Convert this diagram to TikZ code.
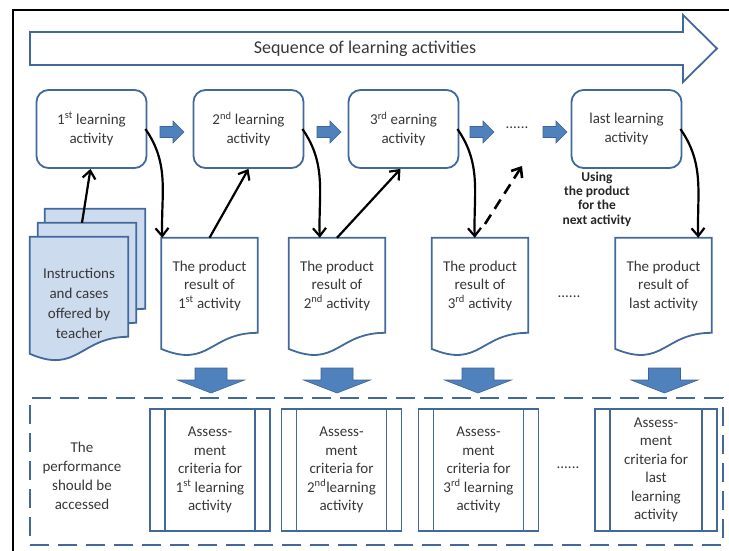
\documentclass[tikz,border=0pt]{standalone}
\usepackage{fontspec}
\setmainfont{Carlito}
\usetikzlibrary{shapes, arrows.meta, positioning, calc, backgrounds}

\definecolor{boxline}{RGB}{65,105,155}
\definecolor{blockfill}{RGB}{79,129,189}
\definecolor{blockline}{RGB}{60,100,150}
\definecolor{paper}{RGB}{205,219,238}
\definecolor{txt}{RGB}{55,55,55}

% page outline with a wavy bottom: #2 node, #3 height of the straight right side
\newcommand{\docoutline}[3][]{%
  \draw[docline,#1] (#2.north west) -- (#2.north east) -- ++(0,-#3)
    .. controls ($(#2.north east)+(-48,-#3)$) and ($(#2.north west)+(48,-1.38*#3)$)
    .. ($(#2.north west)+(0,-1.17*#3)$) -- cycle;}

\tikzset{
	block/.style={draw=blockline, fill=blockfill, line width=0.6pt},
	pics/rightblock/.style={code={\draw[block] (-12,-5.5) -- (1,-5.5) -- (1,-11) -- (12,0) -- (1,11) -- (1,5.5) -- (-12,5.5) -- cycle;}},
	pics/downblock/.style={code={\draw[block] (-16,12.5) -- (16,12.5) -- (16,0.5) -- (33.5,0.5) -- (0,-12.5) -- (-33.5,0.5) -- (-16,0.5) -- cycle;}}
}

\begin{document}
\begin{tikzpicture}[
			x=1pt, y=1pt,
			font=\fontsize{15}{18.5}\selectfont, text=txt,
			activity/.style={rectangle, rounded corners=12pt, draw=boxline, line width=1.8pt, minimum width=110pt, minimum height=78pt, align=center, font=\fontsize{15}{19}\selectfont},
			page/.style={rectangle, minimum width=96pt, minimum height=95pt, align=center, inner sep=0pt},
			docline/.style={draw=boxline, line width=1.8pt, fill=white},
			criteria/.style={rectangle, draw=boxline, line width=1.8pt, minimum width=120pt, minimum height=122pt, align=center,
				path picture={\draw[boxline, line width=1.8pt]
					([xshift=15pt]path picture bounding box.north west) -- ([xshift=15pt]path picture bounding box.south west)
					([xshift=-15pt]path picture bounding box.north east) -- ([xshift=-15pt]path picture bounding box.south east);}},
			flow/.style={-{Straight Barb[length=8pt,width=13pt]}, line width=2.2pt, black},
			note/.style={align=center, font=\fontsize{13.5}{14.3}\selectfont\bfseries, text=black!85}
			]
			\useasboundingbox (0,0) rectangle (729,-551);
			
			% frame
			\draw[line width=2.5pt] (13,-551) -- (13,-10) -- (729,-10);
			
			% sequence arrow
			\draw[draw=boxline, line width=1.8pt] (30,-32) -- (683,-32) -- (683,-15) -- (717,-48.5) -- (683,-82) -- (683,-65) -- (30,-65) -- cycle;
			\node[font=\fontsize{18}{22}\selectfont] (seq) at (365,-48.5) {Sequence of learning activities};
			
			% learning activities
			\node[activity] (act1) at (91.5,-129) {1\textsuperscript{st} learning\\activity};
			\node[activity] (act2) at (248.5,-129) {2\textsuperscript{nd} learning\\activity};
			\node[activity] (act3) at (403.5,-129) {3\textsuperscript{rd} earning\\activity};
			\node[activity] (actN) at (626.5,-129) {last learning\\activity};
			
			\pic (r1) at (172,-132) {rightblock};
			\pic (r2) at (329,-132) {rightblock};
			\pic (r3) at (482,-132) {rightblock};
			\node (dots1) at (517,-128) {......};
			\pic (r4) at (555,-132) {rightblock};
			
			% teacher material and products
			\node[page, minimum width=100pt, minimum height=100pt] (instr3) at (95,-259) {};
			\node[page, minimum width=98pt, minimum height=100pt] (instr2) at (87,-273) {};
			\node[page, minimum width=98pt, minimum height=132pt, font=\fontsize{15}{20}\selectfont] (instr) at (79,-303) {Instructions\\and cases\\offered by\\teacher};
			
			\node[page] (doc1) at (209.5,-285.5) {The product\\result of\\1\textsuperscript{st} activity};
			\node[page] (doc2) at (337,-285.5) {The product\\result of\\2\textsuperscript{nd} activity};
			\node[page] (doc3) at (480,-285.5) {The product\\result of\\3\textsuperscript{rd} activity};
			\node (dots2) at (569,-297) {......};
			\node[page] (docN) at (663.5,-285.5) {The product\\result of\\last activity};
			
			\begin{scope}[on background layer]
				\docoutline[fill=paper]{instr3}{100}
				\docoutline[fill=paper]{instr2}{100}
				\docoutline[fill=paper]{instr}{100}
				\foreach \d in {doc1, doc2, doc3, docN}{
					\docoutline{\d}{95}
				}
			\end{scope}
			
			\pic (d1) at (211,-380.5) {downblock};
			\pic (d2) at (337,-380.5) {downblock};
			\pic (d3) at (478,-380.5) {downblock};
			\pic (dN) at (664.5,-380.5) {downblock};
			
			% assessment
			\node[draw=boxline, line width=2.2pt, dash pattern=on 19pt off 9pt, minimum width=693pt, minimum height=147pt] (assess) at (376.5,-471.5) {};
			\node[align=center, font=\fontsize{15}{19}\selectfont] (perf) at (82,-476) {The\\performance\\should be\\accessed};
			\node[criteria] (crit1) at (210,-470) {Assess-\\ment\\criteria for\\1\textsuperscript{st} learning\\activity};
			\node[criteria] (crit2) at (341.5,-470) {Assess-\\ment\\criteria for\\2\textsuperscript{nd}learning\\activity};
			\node[criteria] (crit3) at (478.5,-470) {Assess-\\ment\\criteria for\\3\textsuperscript{rd} learning\\activity};
			\node (dots3) at (568,-468) {......};
			\node[criteria, minimum width=122pt] (critN) at (656,-470) {Assess-\\ment\\criteria for\\last\\learning\\activity};
			
			% flow between activities and products
			\draw[flow] ([xshift=-5pt]instr2.north) -- ([xshift=-1pt]act1.south);
			\draw[flow] ([xshift=-2pt]act1.east) to[out=-55, in=92] ([xshift=1pt]doc1.north west);
			\draw[flow] (doc1.north) -- (act2.south);
			\draw[flow] ([xshift=-2pt]act2.east) to[out=-55, in=92] ([xshift=31pt]doc2.north west);
			\draw[flow] (doc2.north) -- ([xshift=-3pt]act3.south);
			\draw[flow] ([xshift=-2pt]act3.east) to[out=-55, in=92] ([xshift=43pt]doc3.north west);
			\coordinate (nexttail) at (485,-224);
			\coordinate (nexttip) at (522,-166);
			\draw[flow, line width=2.6pt, dash pattern=on 11pt off 7pt] (nexttail) -- (nexttip);
			\draw[flow] ([xshift=-2pt]actN.east) to[out=-55, in=92] ([xshift=83pt]docN.north west);
			\node[note] (use) at (597,-199) {Using\\the product\\for the\\next activity};
		\end{tikzpicture}
\end{document}
